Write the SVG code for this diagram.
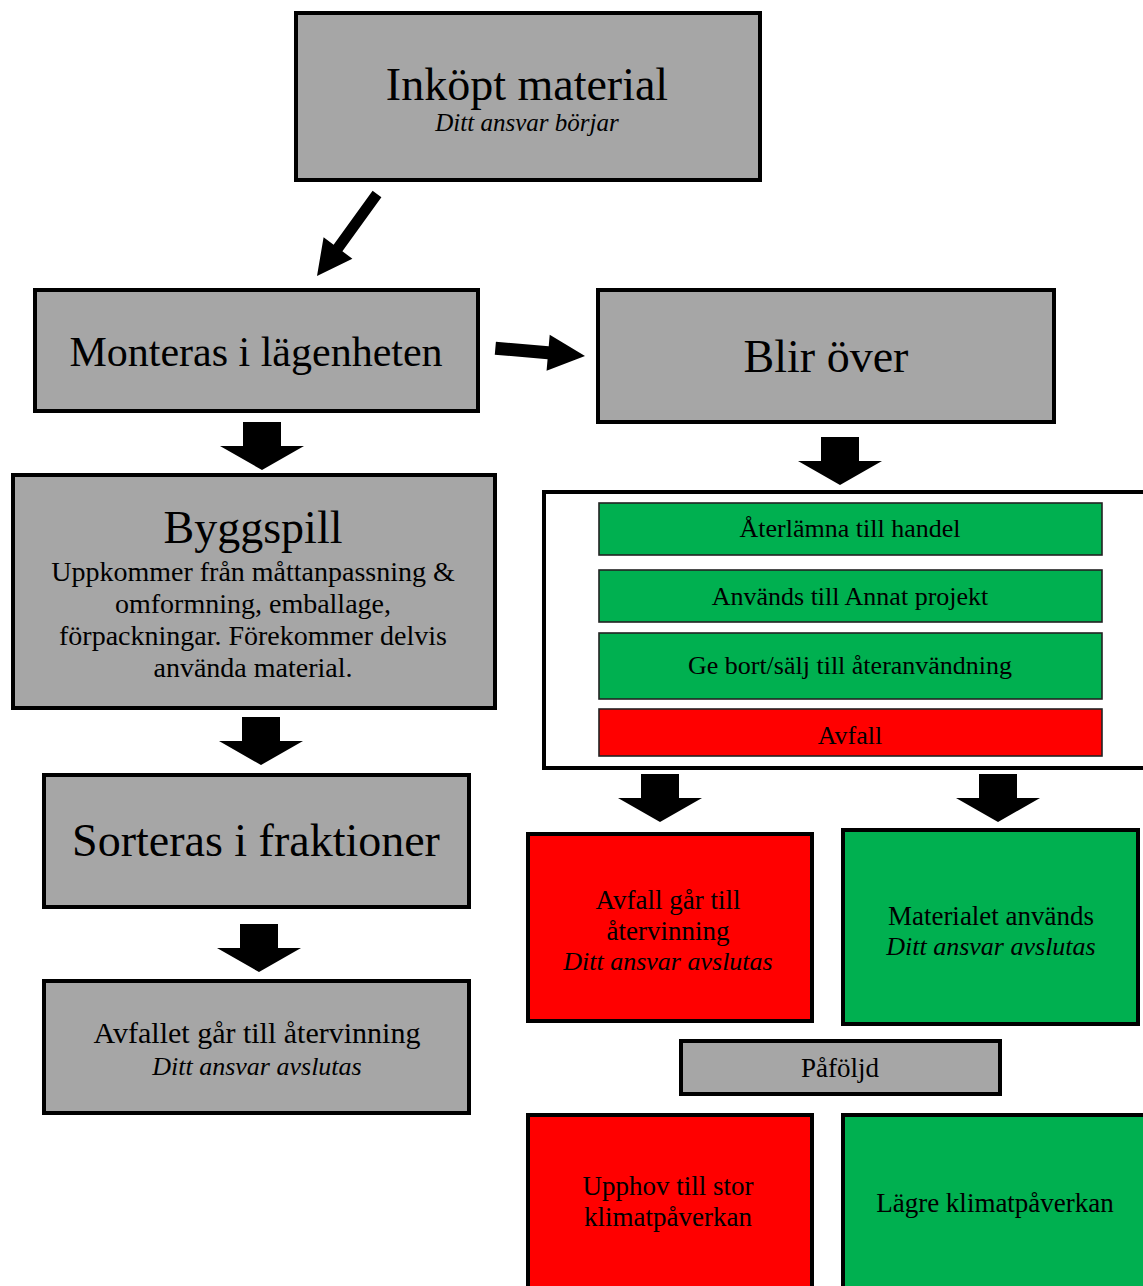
<svg xmlns="http://www.w3.org/2000/svg" width="1143" height="1286" viewBox="0 0 1143 1286">
<style>
  .box{stroke:#000;stroke-width:4}
  .gray{fill:#a6a6a6}
  .green{fill:#00b050}
  .red{fill:#ff0000}
  .row{stroke:#222;stroke-width:1.6}
  text{font-family:"Liberation Serif","Times New Roman",serif;fill:#000;text-anchor:middle}
  .it{font-style:italic}
  .arrow{fill:#000}
</style>
<defs>
  <path id="down" d="M-19,-48 H19 V-24 H42 L0,0 L-42,-24 H-19 Z"/>
</defs>
<rect width="1143" height="1286" fill="#fff"/>

<g id="connectors" class="arrow">
  <polygon points="381.4,197.3 372.6,190.7 333.6,244.7 323.6,237.2 317,276 352.4,258.8 342.4,251.3"/>
  <path d="M-90,-6.5 H-37 V-18 L0,0 L-37,18 V6.5 H-90 Z" transform="translate(585,356) rotate(5)"/>
  <use href="#down" x="262" y="470"/>
  <use href="#down" x="261" y="765"/>
  <use href="#down" x="259" y="972"/>
  <use href="#down" x="840" y="485"/>
  <use href="#down" x="660" y="822"/>
  <use href="#down" x="998" y="822"/>
</g>

<g id="inkopt">
  <rect class="box gray" x="296" y="13" width="464" height="167"/>
  <text x="527" y="100" font-size="46">Inköpt material</text>
  <text class="it" x="527" y="131" font-size="25">Ditt ansvar börjar</text>
</g>

<g id="monteras">
  <rect class="box gray" x="35" y="290" width="443" height="121"/>
  <text x="256" y="366" font-size="42">Monteras i lägenheten</text>
</g>

<g id="blir-over">
  <rect class="box gray" x="598" y="290" width="456" height="132"/>
  <text x="826" y="372" font-size="46">Blir över</text>
</g>

<g id="byggspill">
  <rect class="box gray" x="13" y="475" width="482" height="233"/>
  <text x="253" y="543" font-size="46">Byggspill</text>
  <text x="253" y="581" font-size="28">Uppkommer från måttanpassning &amp;</text>
  <text x="253" y="613" font-size="28">omformning, emballage,</text>
  <text x="253" y="645" font-size="28">förpackningar. Förekommer delvis</text>
  <text x="253" y="677" font-size="28">använda material.</text>
</g>

<g id="sorteras">
  <rect class="box gray" x="44" y="775" width="425" height="132"/>
  <text x="256" y="856" font-size="46">Sorteras i fraktioner</text>
</g>

<g id="avfallet">
  <rect class="box gray" x="44" y="981" width="425" height="132"/>
  <text x="257" y="1043" font-size="30">Avfallet går till återvinning</text>
  <text class="it" x="257" y="1075" font-size="26">Ditt ansvar avslutas</text>
</g>

<g id="alternativ">
  <rect x="544" y="492" width="620" height="276" fill="#fff" stroke="#000" stroke-width="4"/>
  <g id="aterlamna">
    <rect class="row green" x="599" y="503" width="503" height="52"/>
    <text x="850" y="537" font-size="26">Återlämna till handel</text>
  </g>
  <g id="annat-projekt">
    <rect class="row green" x="599" y="570" width="503" height="52"/>
    <text x="850" y="605" font-size="26">Används till Annat projekt</text>
  </g>
  <g id="ge-bort">
    <rect class="row green" x="599" y="633" width="503" height="66"/>
    <text x="850" y="674" font-size="26">Ge bort/sälj till återanvändning</text>
  </g>
  <g id="avfall">
    <rect class="row red" x="599" y="709" width="503" height="47"/>
    <text x="850" y="744" font-size="26">Avfall</text>
  </g>
</g>

<g id="avfall-atervinning">
  <rect class="box red" x="528" y="834" width="284" height="187"/>
  <text x="668" y="909" font-size="27">Avfall går till</text>
  <text x="668" y="940" font-size="27">återvinning</text>
  <text class="it" x="668" y="970" font-size="26">Ditt ansvar avslutas</text>
</g>

<g id="materialet">
  <rect class="box green" x="843" y="830" width="295" height="194"/>
  <text x="991" y="925" font-size="27">Materialet används</text>
  <text class="it" x="991" y="955" font-size="26">Ditt ansvar avslutas</text>
</g>

<g id="pafoljd">
  <rect class="box gray" x="681" y="1041" width="319" height="53"/>
  <text x="840" y="1077" font-size="27">Påföljd</text>
</g>

<g id="upphov">
  <rect class="box red" x="528" y="1115" width="284" height="200"/>
  <text x="668" y="1195" font-size="27">Upphov till stor</text>
  <text x="668" y="1226" font-size="27">klimatpåverkan</text>
</g>

<g id="lagre">
  <rect class="box green" x="843" y="1115" width="310" height="200"/>
  <text x="995" y="1212" font-size="27">Lägre klimatpåverkan</text>
</g>
</svg>
